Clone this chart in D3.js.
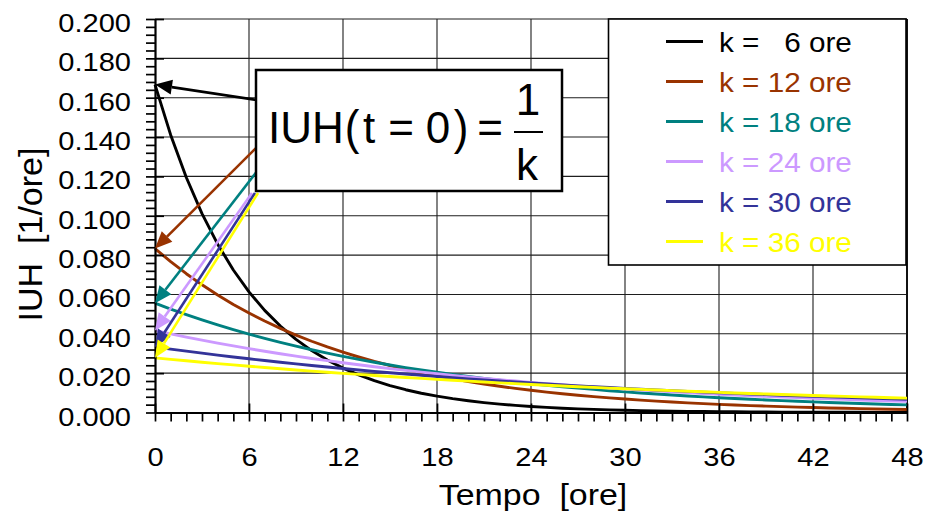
<!DOCTYPE html>
<html>
<head>
<meta charset="utf-8">
<script src="https://cdn.jsdelivr.net/npm/d3@7"></script>
<style>
  html, body { margin: 0; padding: 0; background: #fff; }
  svg { display: block; font-family: "Liberation Sans", Arial, sans-serif; }
  text { white-space: pre; }
</style>
</head>
<body>
<svg id="chart" width="937" height="515"></svg>
<script>
// Time axis (hours)
const hours = [0,1,2,3,4,5,6,7,8,9,10,11,12,13,14,15,16,17,18,19,20,21,22,23,24,
  25,26,27,28,29,30,31,32,33,34,35,36,37,38,39,40,41,42,43,44,45,46,47,48];

// IUH ordinates [1/ore] for each storage constant k
const iuhK6 = [0.16667,0.14108,0.11942,0.10109,0.08557,0.07243,0.06131,0.05190,0.04393,0.03719,
  0.03148,0.02665,0.02256,0.01909,0.01616,0.01368,0.01158,0.00980,0.00830,0.00703,
  0.00595,0.00503,0.00426,0.00361,0.00305,0.00258,0.00219,0.00185,0.00157,0.00133,
  0.00112,0.00095,0.00080,0.00068,0.00058,0.00049,0.00041,0.00035,0.00030,0.00025,
  0.00021,0.00018,0.00015,0.00013,0.00011,0.00009,0.00008,0.00007,0.00006];
const iuhK12 = [0.08333,0.07667,0.07054,0.06490,0.05971,0.05494,0.05054,0.04650,0.04278,0.03936,
  0.03621,0.03332,0.03066,0.02821,0.02595,0.02388,0.02197,0.02021,0.01859,0.01711,
  0.01574,0.01448,0.01332,0.01226,0.01128,0.01038,0.00955,0.00878,0.00808,0.00743,
  0.00684,0.00629,0.00579,0.00533,0.00490,0.00451,0.00415,0.00382,0.00351,0.00323,
  0.00297,0.00273,0.00252,0.00232,0.00213,0.00196,0.00180,0.00166,0.00153];
const iuhK18 = [0.05556,0.05255,0.04971,0.04703,0.04449,0.04208,0.03981,0.03766,0.03562,0.03370,
  0.03188,0.03015,0.02852,0.02698,0.02552,0.02414,0.02284,0.02160,0.02044,0.01933,
  0.01829,0.01730,0.01636,0.01548,0.01464,0.01385,0.01310,0.01239,0.01173,0.01109,
  0.01049,0.00993,0.00939,0.00888,0.00840,0.00795,0.00752,0.00711,0.00673,0.00636,
  0.00602,0.00569,0.00539,0.00510,0.00482,0.00456,0.00431,0.00408,0.00386];
const iuhK24 = [0.04167,0.03997,0.03833,0.03677,0.03527,0.03383,0.03245,0.03113,0.02986,0.02864,
  0.02747,0.02635,0.02527,0.02424,0.02325,0.02230,0.02139,0.02052,0.01968,0.01888,
  0.01811,0.01737,0.01666,0.01598,0.01533,0.01470,0.01410,0.01353,0.01297,0.01244,
  0.01194,0.01145,0.01098,0.01054,0.01011,0.00969,0.00930,0.00892,0.00855,0.00820,
  0.00787,0.00755,0.00724,0.00695,0.00666,0.00639,0.00613,0.00588,0.00564];
const iuhK30 = [0.03333,0.03224,0.03118,0.03016,0.02917,0.02822,0.02729,0.02640,0.02553,0.02469,
  0.02388,0.02310,0.02234,0.02161,0.02090,0.02022,0.01955,0.01891,0.01829,0.01769,
  0.01711,0.01655,0.01601,0.01549,0.01498,0.01449,0.01401,0.01355,0.01311,0.01268,
  0.01226,0.01186,0.01147,0.01110,0.01073,0.01038,0.01004,0.00971,0.00939,0.00908,
  0.00879,0.00850,0.00822,0.00795,0.00769,0.00744,0.00719,0.00696,0.00673];
const iuhK36 = [0.02778,0.02702,0.02628,0.02556,0.02486,0.02418,0.02351,0.02287,0.02224,0.02163,
  0.02104,0.02047,0.01990,0.01936,0.01883,0.01831,0.01781,0.01732,0.01685,0.01639,
  0.01594,0.01550,0.01508,0.01466,0.01426,0.01387,0.01349,0.01312,0.01276,0.01241,
  0.01207,0.01174,0.01142,0.01111,0.01080,0.01051,0.01022,0.00994,0.00967,0.00940,
  0.00915,0.00890,0.00865,0.00841,0.00818,0.00796,0.00774,0.00753,0.00732];

const seriesLabels = ["k =   6 ore", "k = 12 ore", "k = 18 ore", "k = 24 ore", "k = 30 ore", "k = 36 ore"];
const seriesValues = [iuhK6, iuhK12, iuhK18, iuhK24, iuhK30, iuhK36];

const xTickValues = [0, 6, 12, 18, 24, 30, 36, 42, 48];
const yTickValues = [0, 0.02, 0.04, 0.06, 0.08, 0.10, 0.12, 0.14, 0.16, 0.18, 0.20];
const yTickLabels = ["0.000","0.020","0.040","0.060","0.080","0.100","0.120","0.140","0.160","0.180","0.200"];

// ---- styling / layout ----
const colors = ["#000000", "#993300", "#008080", "#cc99ff", "#333399", "#ffff00"];
// where each annotation arrow leaves the formula box
const arrowFrom = [[262, 100.8], [258, 146], [258, 170], [252, 193], [255, 193], [258, 193]];

const svg = d3.select("#chart");
const x = d3.scaleLinear().domain([0, 48]).range([155, 907]);
const y = d3.scaleLinear().domain([0, 0.2]).range([412.5, 19]);

// gridlines
const grid = svg.append("g").attr("stroke", "#1e1e1e").attr("stroke-width", 1.1);
grid.selectAll("line.h").data(yTickValues.slice(1)).join("line")
  .attr("class", "h")
  .attr("x1", x(0)).attr("x2", x(48))
  .attr("y1", d => y(d)).attr("y2", d => y(d));
grid.selectAll("line.v").data(xTickValues.slice(1)).join("line")
  .attr("class", "v")
  .attr("y1", y(0)).attr("y2", y(0.2))
  .attr("x1", d => x(d)).attr("x2", d => x(d));
svg.append("line").attr("x1", x(48)).attr("x2", x(48)).attr("y1", y(0.2)).attr("y2", y(0))
  .attr("stroke", "#111").attr("stroke-width", 2);

// curves
const line = d3.line().x((d, i) => x(hours[i])).y(d => y(d));
svg.append("g").selectAll("path").data(seriesValues).join("path")
  .attr("d", d => line(d))
  .attr("fill", "none")
  .attr("stroke", (d, i) => colors[i])
  .attr("stroke-width", 2.9)
  .attr("stroke-linejoin", "round");

// axes
const minorX = hours.filter(h => h % 6 !== 0);
const minorY = d3.range(0, 51).map(i => i * 0.004).filter((v, i) => i % 5 !== 0);

const xAxis = svg.append("g").attr("transform", `translate(0,${y(0)})`)
  .call(d3.axisBottom(x).tickValues(xTickValues).tickFormat(d3.format("d")).tickSizeInner(9).tickSizeOuter(0));
svg.append("g").attr("transform", `translate(0,${y(0)})`)
  .call(d3.axisBottom(x).tickValues(minorX).tickFormat("").tickSizeInner(9).tickSizeOuter(0))
  .select(".domain").remove();
const yAxis = svg.append("g").attr("transform", `translate(${x(0)},0)`)
  .call(d3.axisLeft(y).tickValues(yTickValues).tickFormat((d, i) => yTickLabels[i]).tickSizeInner(9).tickSizeOuter(0));
svg.append("g").attr("transform", `translate(${x(0)},0)`)
  .call(d3.axisLeft(y).tickValues(minorY).tickFormat("").tickSizeInner(9).tickSizeOuter(0))
  .select(".domain").remove();

// major ticks cross the axis line
xAxis.selectAll(".tick line").attr("y1", -9);
yAxis.selectAll(".tick line").attr("x1", 9).attr("x2", -9);

svg.selectAll(".domain").attr("stroke", "#000").attr("stroke-width", 2.2);
svg.selectAll(".tick line").attr("stroke", "#000").attr("stroke-width", 1.7);

xAxis.selectAll(".tick text")
  .attr("y", 53.5).attr("dy", null)
  .attr("font-size", 25.5).attr("fill", "#000")
  .attr("font-family", "Liberation Sans, Arial, sans-serif")
  .attr("transform", "scale(1.14,1)");
yAxis.selectAll(".tick text")
  .attr("x", -24 / 1.14).attr("dy", null).attr("y", 12.5)
  .attr("font-size", 25.5).attr("fill", "#000")
  .attr("font-family", "Liberation Sans, Arial, sans-serif")
  .attr("transform", "scale(1.14,1)");
svg.selectAll(".tick text").filter(function () { return this.textContent === ""; }).remove();

// axis titles
svg.append("g").attr("transform", "translate(533,505) scale(1.17,1)")
  .append("text").attr("text-anchor", "middle").attr("font-size", 29).text("Tempo  [ore]");
svg.append("g").attr("transform", "translate(42,234.5) rotate(-90)")
  .append("text").attr("text-anchor", "middle").attr("font-size", 34).text("IUH  [1/ore]");

// annotation arrows to IUH(t=0) on each curve
const arrows = svg.append("g");
seriesValues.forEach((vals, i) => {
  const tx = x(hours[0]), ty = y(vals[0]);
  const [fx, fy] = arrowFrom[i];
  const ang = Math.atan2(fy - ty, fx - tx);
  const L = 17, Wd = 7.5;
  const bx = tx + L * Math.cos(ang), by = ty + L * Math.sin(ang);
  arrows.append("line")
    .attr("x1", fx).attr("y1", fy).attr("x2", bx).attr("y2", by)
    .attr("stroke", colors[i]).attr("stroke-width", 2.6);
  const px = -Math.sin(ang) * Wd, py = Math.cos(ang) * Wd;
  arrows.append("path")
    .attr("d", `M${tx},${ty}L${bx + px},${by + py}L${bx - px},${by - py}Z`)
    .attr("fill", colors[i]);
});

// formula box
const fb = svg.append("g");
fb.append("rect").attr("x", 256).attr("y", 70).attr("width", 306).attr("height", 121)
  .attr("fill", "#fff").attr("stroke", "#000").attr("stroke-width", 2.5);
const eq = fb.append("g").attr("font-size", 44).attr("text-anchor", "middle").attr("fill", "#000");
eq.append("text").attr("x", 306).attr("y", 143).text("IUH");
eq.append("text").attr("x", 352).attr("y", 136).attr("transform", "translate(0,-6) scale(1,1.1)").text("(");
eq.append("text").attr("x", 369).attr("y", 143).text("t");
eq.append("text").attr("x", 401).attr("y", 143).text("=");
eq.append("text").attr("x", 438).attr("y", 143).text("0");
eq.append("text").attr("x", 461).attr("y", 136).attr("transform", "translate(0,-6) scale(1,1.1)").text(")");
eq.append("text").attr("x", 490).attr("y", 143).text("=");
eq.append("text").attr("x", 528).attr("y", 115).text("1");
eq.append("text").attr("x", 527).attr("y", 180).text("k");
fb.append("line").attr("x1", 514).attr("x2", 543).attr("y1", 132).attr("y2", 132)
  .attr("stroke", "#000").attr("stroke-width", 2);

// legend
const lg = svg.append("g");
lg.append("rect").attr("x", 608.5).attr("y", 19).attr("width", 297.5).attr("height", 246)
  .attr("fill", "#fff").attr("stroke", "#000").attr("stroke-width", 1.6);
seriesLabels.forEach((lab, i) => {
  const base = 51.5 + i * 40;
  lg.append("line").attr("x1", 666).attr("x2", 703).attr("y1", base - 10).attr("y2", base - 10)
    .attr("stroke", colors[i]).attr("stroke-width", 3);
  lg.append("g").attr("transform", `translate(719,${base}) scale(1.1,1)`)
    .append("text").attr("font-size", 27).attr("fill", colors[i]).text(lab);
});
</script>
</body>
</html>
